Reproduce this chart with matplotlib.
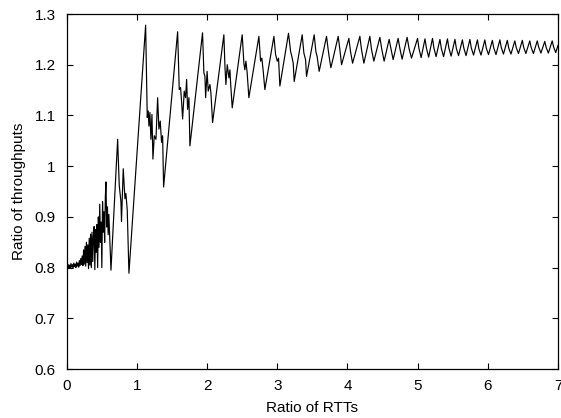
import matplotlib.pyplot as plt
from matplotlib.ticker import FuncFormatter

# Ratio of RTTs (x) and ratio of throughputs (y)

# start-up: noisy around 0.8
rtt_start = [0.0, 0.004, 0.012, 0.02, 0.03, 0.04, 0.05, 0.06, 0.07, 0.08,
             0.09, 0.10, 0.11, 0.12, 0.13, 0.14, 0.15, 0.16, 0.17, 0.18,
             0.19, 0.20, 0.21, 0.22]
tput_start = [0.775, 0.812, 0.798, 0.806, 0.799, 0.805, 0.800, 0.808, 0.801, 0.806,
              0.799, 0.809, 0.802, 0.807, 0.800, 0.811, 0.803, 0.809, 0.801, 0.814,
              0.804, 0.818, 0.806, 0.823]

# growing spikes up to the first big jump
rtt_spikes = [0.23, 0.24, 0.25, 0.26, 0.27, 0.28, 0.29, 0.30, 0.31, 0.32,
              0.33, 0.34, 0.35, 0.36, 0.37, 0.38, 0.39, 0.40, 0.41, 0.42,
              0.43, 0.44, 0.45, 0.46, 0.47, 0.48, 0.49, 0.50, 0.51, 0.52,
              0.53, 0.54, 0.55, 0.558, 0.57, 0.58, 0.59, 0.60, 0.61, 0.62,
              0.63, 0.725, 0.748, 0.772, 0.78, 0.805, 0.829, 0.843, 0.862, 0.886]
tput_spikes = [0.804, 0.835, 0.807, 0.842, 0.803, 0.850, 0.810, 0.845, 0.798, 0.858,
               0.805, 0.866, 0.800, 0.870, 0.812, 0.860, 0.881, 0.796, 0.875, 0.830,
               0.885, 0.800, 0.900, 0.840, 0.925, 0.850, 0.890, 0.800, 0.930, 0.870,
               0.910, 0.850, 0.940, 0.969, 0.880, 0.920, 0.865, 0.905, 0.870, 0.830,
               0.795, 1.053, 0.962, 0.930, 0.891, 0.995, 0.936, 0.946, 0.913, 0.789]

# big sawtooth, ratio 1.1 to 3.3
rtt_saw = [1.124, 1.147, 1.161, 1.171, 1.185, 1.199, 1.214, 1.228, 1.247, 1.271,
           1.295, 1.313, 1.332, 1.351, 1.366, 1.38, 1.58, 1.603, 1.622, 1.636,
           1.651, 1.674, 1.693, 1.708, 1.722, 1.741, 1.755, 1.935, 1.954, 1.969,
           1.979, 2.0, 2.016, 2.04, 2.054, 2.078, 2.239, 2.254, 2.268, 2.287,
           2.311, 2.325, 2.335, 2.358, 2.5, 2.524, 2.538, 2.553, 2.571, 2.595,
           2.738, 2.762, 2.78, 2.8, 2.823, 2.952, 2.976, 3.0, 3.018, 3.037,
           3.16, 3.19, 3.208, 3.227, 3.241]
tput_saw = [1.278, 1.096, 1.109, 1.079, 1.106, 1.053, 1.102, 1.014, 1.060, 1.053,
            1.135, 1.073, 1.089, 1.047, 1.060, 0.959, 1.265, 1.151, 1.155, 1.128,
            1.093, 1.148, 1.135, 1.171, 1.112, 1.135, 1.040, 1.263, 1.184, 1.177,
            1.135, 1.187, 1.148, 1.161, 1.145, 1.086, 1.259, 1.197, 1.161, 1.200,
            1.174, 1.190, 1.164, 1.115, 1.259, 1.203, 1.190, 1.207, 1.184, 1.135,
            1.256, 1.207, 1.213, 1.187, 1.151, 1.256, 1.220, 1.207, 1.213, 1.158,
            1.262, 1.226, 1.216, 1.203, 1.167]

# settling teeth, ratio 3.3 to 5
rtt_settle = [3.355, 3.379, 3.403, 3.417, 3.526, 3.55, 3.568, 3.597, 3.702, 3.725,
              3.739, 3.764, 3.868, 3.892, 3.916, 4.02, 4.044, 4.073, 4.177, 4.2,
              4.234, 4.319, 4.343, 4.376, 4.462, 4.49, 4.523, 4.594, 4.623, 4.651,
              4.722, 4.75, 4.779, 4.85, 4.879, 4.913, 4.999]
tput_settle = [1.259, 1.223, 1.210, 1.177, 1.259, 1.226, 1.216, 1.187, 1.256, 1.230,
               1.216, 1.194, 1.256, 1.230, 1.200, 1.252, 1.226, 1.203, 1.256, 1.230,
               1.203, 1.256, 1.230, 1.207, 1.254, 1.230, 1.207, 1.250, 1.230, 1.210,
               1.252, 1.230, 1.211, 1.254, 1.231, 1.213, 1.252]

# steady state, ratio 5 to 7
rtt_steady = [5.019, 5.050, 5.105, 5.125, 5.157, 5.212, 5.232, 5.263, 5.318, 5.338,
              5.370, 5.425, 5.445, 5.477, 5.532, 5.552, 5.583, 5.638, 5.658, 5.690,
              5.745, 5.765, 5.797, 5.852, 5.872, 5.903, 5.958, 5.978, 6.010, 6.065,
              6.085, 6.117, 6.172, 6.192, 6.223, 6.278, 6.298, 6.330, 6.385, 6.405,
              6.437, 6.492, 6.512, 6.543, 6.598, 6.618, 6.650, 6.705, 6.725, 6.757,
              6.812, 6.832, 6.863, 6.918, 6.938, 6.968, 7.0]
tput_steady = [1.232, 1.214, 1.251, 1.233, 1.215, 1.252, 1.233, 1.216, 1.250, 1.232,
               1.216, 1.251, 1.233, 1.217, 1.250, 1.232, 1.218, 1.249, 1.233, 1.218,
               1.250, 1.233, 1.219, 1.249, 1.232, 1.219, 1.249, 1.233, 1.220, 1.248,
               1.233, 1.220, 1.249, 1.234, 1.221, 1.248, 1.233, 1.221, 1.247, 1.234,
               1.222, 1.248, 1.234, 1.222, 1.247, 1.234, 1.222, 1.247, 1.235, 1.223,
               1.246, 1.234, 1.223, 1.247, 1.235, 1.224, 1.238]

x_ticks = [0, 1, 2, 3, 4, 5, 6, 7]
y_ticks = [0.6, 0.7, 0.8, 0.9, 1.0, 1.1, 1.2, 1.3]

rtt = rtt_start + rtt_spikes + rtt_saw + rtt_settle + rtt_steady
tput = tput_start + tput_spikes + tput_saw + tput_settle + tput_steady

plt.rcParams["font.family"] = ["Liberation Sans", "DejaVu Sans"]

fig = plt.figure(figsize=(5.61, 4.18), dpi=100)
ax = fig.add_axes([0.119, 0.117, 0.8756, 0.8495])

ax.plot(rtt, tput, color="black", linewidth=0.85)

ax.set_xlim(0, 7)
ax.set_ylim(0.6, 1.3)
ax.set_xticks(x_ticks)
ax.set_yticks(y_ticks)
ax.yaxis.set_major_formatter(FuncFormatter(lambda v, p: "%g" % v))
ax.tick_params(direction="in", top=True, right=True, length=4, width=0.8,
               labelsize=11)
ax.tick_params(axis="x", pad=7)
ax.tick_params(axis="y", pad=8)
for s in ax.spines.values():
    s.set_linewidth(0.9)

ax.set_xlabel("Ratio of RTTs", fontsize=11, labelpad=6)
ax.set_ylabel("Ratio of throughputs", fontsize=11, labelpad=6)

plt.savefig("out.png", dpi=100)
